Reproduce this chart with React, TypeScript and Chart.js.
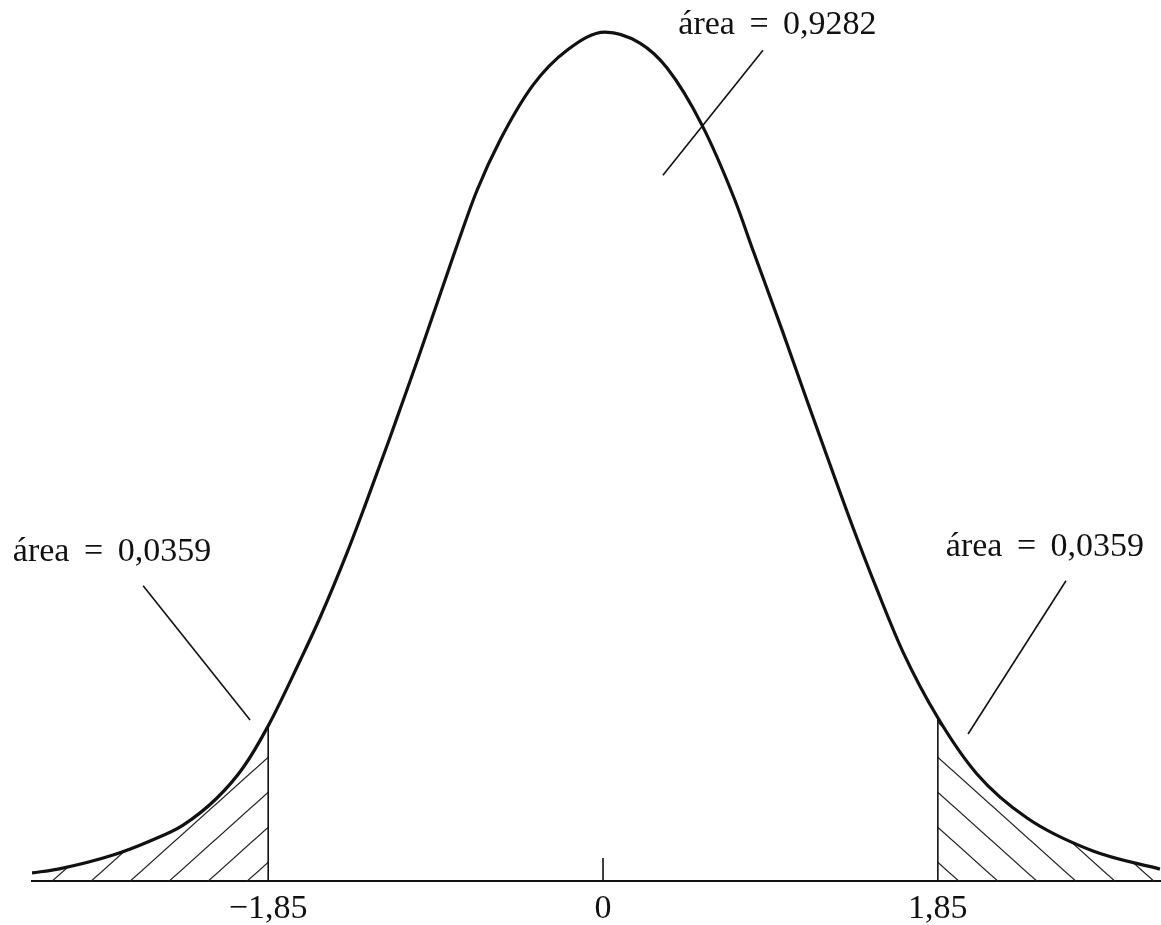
import React, { useEffect, useRef } from 'react';
import { Chart, registerables } from 'chart.js';

Chart.register(...registerables);

// curve (z on the axis, height as density)
const curveX = [
  -3.155, -3.011, -2.707, -2.503, -2.32, -2.133, -1.989, -1.85, -1.674, -1.564, -1.414, -1.315,
  -1.177, -1.122, -1.022, -0.818, -0.696, -0.569, -0.387, -0.199, 0.011, 0.204, 0.354, 0.547,
  0.729, 0.829, 0.994, 1.127, 1.254, 1.381, 1.514, 1.657, 1.85, 2.066, 2.343, 2.707, 3.077,
];
const curveY = [
  0.0038, 0.0056, 0.0122, 0.0188, 0.0263, 0.039, 0.0532, 0.0729, 0.1035, 0.1237, 0.1543, 0.1764,
  0.2084, 0.2216, 0.2455, 0.2959, 0.3246, 0.3481, 0.374, 0.3904, 0.3989, 0.3937, 0.382, 0.3552,
  0.3199, 0.2963, 0.2578, 0.2258, 0.1957, 0.1661, 0.1369, 0.1077, 0.0767, 0.0503, 0.0296, 0.0141,
  0.0056,
];

const cutLow = -1.85;
const cutHigh = 1.85;
const tickValues = [-1.85, 0, 1.85];
const tickLabels = ['\u22121,85', '0', '1,85'];

const areaLabels = ['área = 0,0359', 'área = 0,9282', 'área = 0,0359'];
const areaLabelX = [-2.713, 0.964, 2.442];
const areaLabelY = [0.1548, 0.4022, 0.1571];

// pointer lines: [x0, y0, x1, y1]
const pointerLow = [-2.541, 0.1388, -1.95, 0.0757];
const pointerMid = [0.884, 0.3904, 0.331, 0.3316];
const pointerHigh = [2.558, 0.1411, 2.017, 0.0691];
const zeroTickHeight = 0.0108;

const FONT = '"Liberation Serif", "Times New Roman", serif';
const INK = '#111';

const makeHatch = (dir: 1 | -1, shift: number): CanvasPattern | string => {
  const w = 39;
  const h = 35;
  const c = document.createElement('canvas');
  c.width = w;
  c.height = h;
  const g = c.getContext('2d');
  if (!g) return 'transparent';
  g.strokeStyle = '#222';
  g.lineWidth = 1.3;
  for (const k of [-1, 0, 1]) {
    g.beginPath();
    if (dir === 1) {
      g.moveTo(k * w - w, 2 * h);
      g.lineTo(k * w + 2 * w, -h);
    } else {
      g.moveTo(k * w - w, -h);
      g.lineTo(k * w + 2 * w, 2 * h);
    }
    g.stroke();
  }
  const p = g.createPattern(c, 'repeat');
  if (!p) return 'transparent';
  p.setTransform(new DOMMatrix([1, 0, 0, 1, shift, 0]));
  return p;
};

const App: React.FC = () => {
  const canvasRef = useRef<HTMLCanvasElement | null>(null);
  const chartRef = useRef<Chart | null>(null);

  useEffect(() => {
    document.body.style.margin = '0';
    const ctx = canvasRef.current?.getContext('2d');
    if (!ctx) return;

    const curve = curveX.map((x, i) => ({ x, y: curveY[i] }));
    const tailLow = curve.filter((p) => p.x <= cutLow);
    const tailHigh = curve.filter((p) => p.x >= cutHigh);
    const lowTop = tailLow[tailLow.length - 1].y;
    const highTop = tailHigh[0].y;
    const seg = (a: number[]) => [{ x: a[0], y: a[1] }, { x: a[2], y: a[3] }];

    const thin = {
      type: 'line' as const,
      borderColor: INK,
      borderWidth: 1.6,
      pointRadius: 0,
      fill: false,
    };

    const annotations = {
      id: 'annotations',
      afterDatasetsDraw(chart: any) {
        const { ctx: c, scales } = chart;
        c.save();
        c.fillStyle = INK;
        c.font = `34px ${FONT}`;
        c.textAlign = 'center';
        c.textBaseline = 'middle';
        (c as any).wordSpacing = '6px';
        areaLabels.forEach((t, i) => {
          c.fillText(t, scales.x.getPixelForValue(areaLabelX[i]), scales.y.getPixelForValue(areaLabelY[i]));
        });
        c.restore();
      },
    };

    chartRef.current = new Chart(ctx, {
      type: 'line',
      data: {
        datasets: [
          {
            label: 'curva',
            data: curve,
            borderColor: INK,
            borderWidth: 3.2,
            pointRadius: 0,
            cubicInterpolationMode: 'monotone',
            fill: false,
          },
          { ...thin, label: 'corte inferior', data: [{ x: cutLow, y: 0 }, { x: cutLow, y: lowTop }] },
          { ...thin, label: 'corte superior', data: [{ x: cutHigh, y: 0 }, { x: cutHigh, y: highTop }] },
          { ...thin, label: 'marca 0', data: [{ x: 0, y: 0 }, { x: 0, y: zeroTickHeight }] },
          { ...thin, label: 'seta inf', data: seg(pointerLow) },
          { ...thin, label: 'seta centro', data: seg(pointerMid) },
          { ...thin, label: 'seta sup', data: seg(pointerHigh) },
          {
            label: 'cauda inferior',
            data: tailLow,
            borderWidth: 0,
            pointRadius: 0,
            cubicInterpolationMode: 'monotone',
            fill: 'origin',
            backgroundColor: makeHatch(1, 20),
          },
          {
            label: 'cauda superior',
            data: tailHigh,
            borderWidth: 0,
            pointRadius: 0,
            cubicInterpolationMode: 'monotone',
            fill: 'origin',
            backgroundColor: makeHatch(-1, 16),
          },
        ],
      },
      options: {
        responsive: false,
        animation: false,
        layout: { padding: { left: 32, right: 0, top: 0, bottom: -12 } },
        plugins: { legend: { display: false }, tooltip: { enabled: false } },
        scales: {
          x: {
            type: 'linear',
            min: -3.155,
            max: 3.083,
            grid: { display: false, drawTicks: false },
            border: { display: true, color: INK, width: 2 },
            afterBuildTicks: (axis: any) => {
              axis.ticks = tickValues.map((v) => ({ value: v }));
            },
            ticks: {
              color: INK,
              padding: 11,
              autoSkip: false,
              maxRotation: 0,
              font: { family: FONT, size: 34, lineHeight: 1 },
              callback: (_v: any, i: number) => tickLabels[i],
            },
          },
          y: { display: false, min: 0, max: 0.414 },
        },
      },
      plugins: [annotations],
    });

    return () => {
      if (chartRef.current) {
        chartRef.current.destroy();
        chartRef.current = null;
      }
    };
  }, []);

  return (
    <div style={{ width: 1161, height: 925, background: '#fff' }}>
      <canvas ref={canvasRef} width={1161} height={925} />
    </div>
  );
};

export default App;
